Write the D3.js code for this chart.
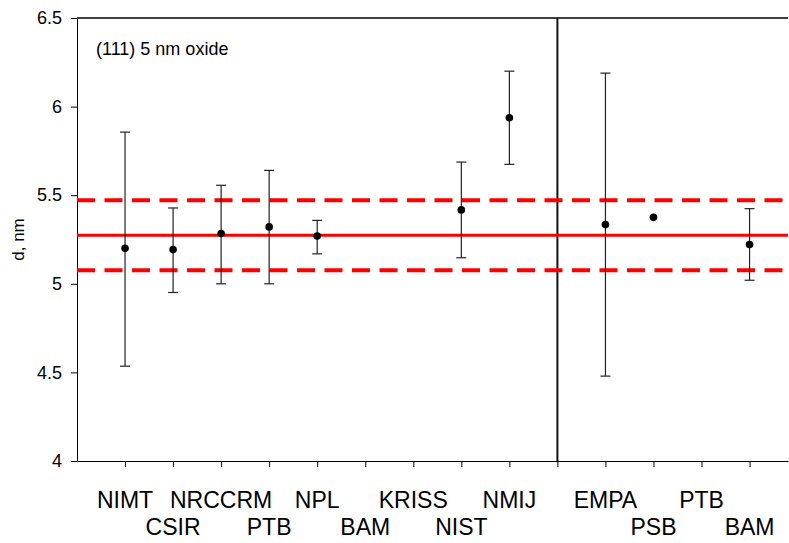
<!DOCTYPE html>
<html>
<head>
<meta charset="utf-8">
<script src="https://cdn.jsdelivr.net/npm/d3@7"></script>
<style>
  body { margin: 0; background: #fff; }
  svg { font-family: Arial, "Liberation Sans", sans-serif; }
</style>
</head>
<body>
<svg id="chart" width="789" height="543"></svg>
<script>
// labs and their slot on the x axis (slot 10 is the divider)
const labs = ["NIMT", "CSIR", "NRCCRM", "PTB", "NPL", "BAM", "KRISS", "NIST", "NMIJ", "EMPA", "PSB", "PTB", "BAM"]
const slots = [1, 2, 3, 4, 5, 6, 7, 8, 9, 11, 12, 13, 14]
// measured d values and uncertainty limits (null = no result)
const dVals = [5.20, 5.193, 5.284, 5.321, 5.270, null, null, 5.417, 5.937, 5.334, 5.375, null, 5.222]
const dLow = [4.535, 4.951, 5.000, 5.000, 5.169, null, null, 5.147, 5.674, 4.479, null, null, 5.020]
const dHigh = [5.856, 5.428, 5.556, 5.640, 5.358, null, null, 5.687, 6.200, 6.189, null, null, 5.424]
// reference value and its band
const refMean = 5.274
const refBand = [5.076, 5.472]
const dividerSlot = 10
const yTicks = [4, 4.5, 5, 5.5, 6, 6.5]
const xTicks = [1, 2, 3, 4, 5, 6, 7, 8, 9, 10, 11, 12, 13, 14]

const svg = d3.select('#chart')
const padL = 77, padR = 788, padT = 18, padB = 461

const x = d3.scaleLinear().domain([0, 14.8]).range([padL, padR])
const y = d3.scaleLinear().domain([4, 6.5]).range([padB, padT])

const pts = labs.map((l, i) => ({lab: l, slot: slots[i], d: dVals[i], lo: dLow[i], hi: dHigh[i]}))

// y axis
const yAx = svg.append('g')
  .attr('transform', `translate(${padL},0)`)
  .call(d3.axisLeft(y).tickValues(yTicks).tickFormat(d3.format('')).tickSize(6).tickPadding(9).tickSizeOuter(0))
yAx.selectAll('text').attr('font-size', 18).attr('fill', '#000').attr('font-family', null)
yAx.selectAll('line,path').attr('stroke', '#000')

// x axis, labels staggered over two rows
const xAx = svg.append('g')
  .attr('transform', `translate(0,${padB})`)
  .call(d3.axisBottom(x).tickValues(xTicks).tickSize(6).tickSizeOuter(0).tickFormat(''))
xAx.selectAll('line,path').attr('stroke', '#000')

svg.append('g').selectAll('text')
  .data(pts)
  .join('text')
    .attr('x', d => x(d.slot))
    .attr('y', d => d.slot % 2 === 1 ? 508 : 535)
    .attr('text-anchor', 'middle')
    .attr('font-size', 23)
    .text(d => d.lab)

// top frame line
svg.append('line')
  .attr('x1', padL).attr('x2', padR)
  .attr('y1', y(6.5)).attr('y2', y(6.5))
  .attr('stroke', '#000').attr('stroke-width', 1.5)

// divider between the two groups
svg.append('line')
  .attr('x1', x(dividerSlot)).attr('x2', x(dividerSlot))
  .attr('y1', y(6.5)).attr('y2', y(4))
  .attr('stroke', '#111').attr('stroke-width', 2)

// reference lines
svg.append('line')
  .attr('x1', padL).attr('x2', padR)
  .attr('y1', y(refMean)).attr('y2', y(refMean))
  .attr('stroke', '#f00').attr('stroke-width', 3)

svg.selectAll('.band')
  .data(refBand)
  .join('line')
    .attr('class', 'band')
    .attr('x1', padL).attr('x2', padR)
    .attr('y1', d => y(d)).attr('y2', d => y(d))
    .attr('stroke', '#f00').attr('stroke-width', 4)
    .attr('stroke-dasharray', '18,9.5')

// error bars
const withErr = pts.filter(d => d.lo !== null)
const eb = svg.append('g').attr('stroke', '#222').attr('stroke-width', 1.2)
eb.selectAll('.stem').data(withErr).join('line').attr('class', 'stem')
  .attr('x1', d => x(d.slot)).attr('x2', d => x(d.slot))
  .attr('y1', d => y(d.lo)).attr('y2', d => y(d.hi))
eb.selectAll('.capHi').data(withErr).join('line').attr('class', 'capHi')
  .attr('x1', d => x(d.slot) - 5).attr('x2', d => x(d.slot) + 5)
  .attr('y1', d => y(d.hi)).attr('y2', d => y(d.hi))
eb.selectAll('.capLo').data(withErr).join('line').attr('class', 'capLo')
  .attr('x1', d => x(d.slot) - 5).attr('x2', d => x(d.slot) + 5)
  .attr('y1', d => y(d.lo)).attr('y2', d => y(d.lo))

// points
svg.selectAll('.dot')
  .data(pts.filter(d => d.d !== null))
  .join('circle')
    .attr('class', 'dot')
    .attr('cx', d => x(d.slot))
    .attr('cy', d => y(d.d))
    .attr('r', 3.8)
    .attr('fill', '#000')

// axis title
svg.append('text')
  .attr('transform', `translate(24,${(padT + padB) / 2}) rotate(-90)`)
  .attr('text-anchor', 'middle')
  .attr('font-size', 17)
  .text('d, nm')

// panel note
svg.append('text')
  .attr('x', 96).attr('y', 55)
  .attr('font-size', 18)
  .text('(111) 5 nm oxide')
</script>
</body>
</html>
